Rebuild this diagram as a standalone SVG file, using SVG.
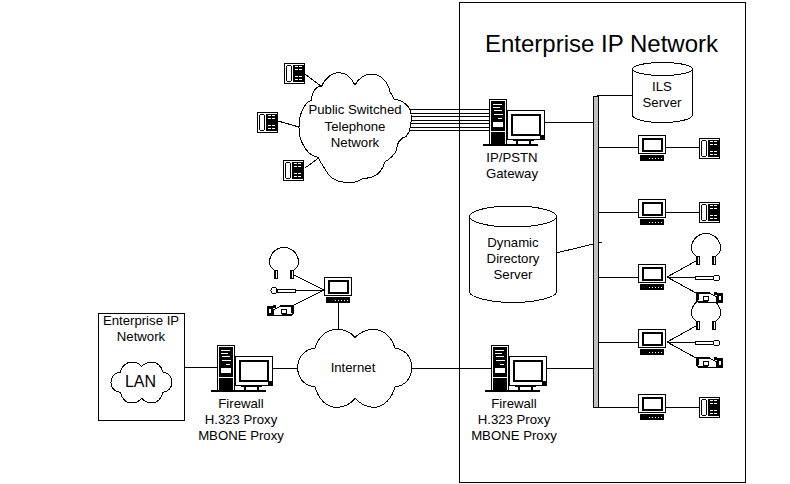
<svg xmlns="http://www.w3.org/2000/svg" xmlns:xlink="http://www.w3.org/1999/xlink" width="790" height="484" viewBox="0 0 790 484">
<style>
text{font-family:"Liberation Sans",Arial,sans-serif;font-size:13.2px;fill:#000;text-anchor:middle}
.s{fill:none;stroke:#000;stroke-width:1;shape-rendering:crispEdges}
.w{fill:#fff;stroke:#000;stroke-width:1;shape-rendering:crispEdges}
.k{fill:#000;shape-rendering:crispEdges}
.f{fill:#fff;shape-rendering:crispEdges}
.n{vector-effect:non-scaling-stroke}
</style>
<defs>
<g id="server">
<rect class="k" x="0" y="45" width="55" height="2"/>
<rect class="w" x="6.500" y="0.500" width="17" height="45"/>
<rect class="k" x="8" y="2" width="14" height="30"/>
<rect class="k" x="8" y="33" width="14" height="12"/>
<rect class="f" x="10" y="5" width="9" height="1"/><rect class="f" x="10" y="8" width="7" height="1"/><rect class="f" x="11" y="11" width="8" height="1"/><rect class="f" x="11" y="15" width="9" height="1"/><rect class="f" x="15" y="19" width="4" height="1"/>
<rect class="f" x="10" y="23" width="10" height="5"/>
<rect class="k" x="30" y="41" width="21" height="1"/><rect class="k" x="33" y="42" width="2" height="3"/><rect class="k" x="46" y="42" width="2" height="3"/>
<rect class="w" x="24.500" y="11.500" width="37" height="29"/>
<rect x="28.500" y="15.500" width="28" height="20" fill="#fff" stroke="#000" stroke-width="2" shape-rendering="crispEdges"/>
<rect class="k" x="57" y="36" width="4" height="4"/>
</g>
<g id="pc">
<rect class="w" x="0.500" y="0.500" width="27" height="18"/>
<rect x="4.500" y="3.500" width="19" height="12" fill="#fff" stroke="#000" stroke-width="2" shape-rendering="crispEdges"/>
<rect class="k" x="2" y="20" width="24" height="6"/>
<rect class="f" x="11" y="23" width="1" height="1"/><rect class="f" x="14" y="23" width="1" height="1"/><rect class="f" x="17" y="23" width="1" height="1"/><rect class="f" x="20" y="23" width="1" height="1"/><rect class="f" x="23" y="23" width="1" height="1"/>
</g>
<g id="phone">
<rect class="w" x="0.500" y="0.500" width="20" height="20"/>
<rect class="s" x="2.500" y="2.500" width="5" height="16" rx="2"/>
<rect class="k" x="9" y="2" width="11" height="17"/>
<rect class="f" x="11" y="3" width="3" height="1"/><rect class="f" x="15" y="3" width="3" height="1"/><rect class="f" x="11" y="6" width="3" height="1"/><rect class="f" x="15" y="6" width="3" height="1"/><rect class="f" x="11" y="13" width="3" height="1"/><rect class="f" x="15" y="13" width="3" height="1"/><rect class="f" x="11" y="16" width="3" height="1"/><rect class="f" x="15" y="16" width="3" height="1"/>
</g>
<g id="headset">
<path class="s" d="M6 24C2 21 0.500 18 0.500 15C0.500 7 7 0.500 15 0.500C23 0.500 29.500 7 29.500 15C29.500 18 28 21 24 24"/>
<rect class="w" x="5.500" y="23.500" width="3" height="8"/><rect class="k" x="5" y="24" width="1.500" height="7"/>
<rect class="w" x="21.500" y="23.500" width="3" height="8"/><rect class="k" x="21" y="24" width="1.500" height="7"/>
</g>
<g id="mic">
<rect class="w" x="0.500" y="0.500" width="18" height="3"/>
<circle class="w" cx="21.500" cy="2" r="3"/>
</g>
<g id="camera">
<path class="w" d="M1.500 1.500H14.500L21.500 4.500V10.500H5.500L1.500 8.500Z"/>
<rect class="k" x="1" y="0" width="14" height="2"/><rect class="k" x="3" y="9" width="10" height="2"/><rect class="k" x="2" y="2" width="2" height="6"/>
<rect class="s" x="8.500" y="4.500" width="5" height="4"/>
<rect class="k" x="19" y="0" width="3" height="3"/>
<rect class="k" x="22" y="1" width="6" height="10"/><rect class="f" x="24" y="4" width="2" height="4"/>
</g>
<path id="cloud" class="n" d="M38 143C38 115 55 88 90 85C100 50 125 28 155 28C180 28 198 38 210 52C225 38 243 28 265 28C295 28 320 50 330 85C360 88 380 110 380 143C380 175 360 198 330 200C320 238 295 262 265 262C243 262 225 250 210 235C198 250 180 262 155 262C125 262 100 238 90 200C55 198 38 170 38 143Z"/>
</defs>

<g id="connectors">
<path class="s" d="M305 74L322 87M278 121L299 127M305 168L320 157"/>
<path class="s" d="M410 109.500H489M410 113.500H489M410 116.500H489M410 120.500H489M410 123.500H489M410 127.500H489M410 130.500H489"/>
<path class="s" d="M544 122.500H593M597 95.500H632M598 147.500H638M666 147.500H699M598 212.500H638M666 212.500H699M598 277.500H638M598 342.500H638M598 407.500H638M666 407.500H699"/>
<path class="s" d="M556 253L602 242"/>
<path class="s" d="M667 277L696 261M667 277.500H695M667 277L696 293M667 342L696 326M667 342.500H695M667 342L696 358"/>
<path class="s" d="M324 290L294 275M324 290.500H295M324 290L294 305M338.500 303V329"/>
<path class="s" d="M184 367.500H217M272 368.500H298M412 368.500H491M546 368.500H593"/>
</g>

<g id="enterprise-network">
<rect class="s" x="459.500" y="2.500" width="286" height="480"/>
<text x="601.500" y="52" style="font-size:24px">Enterprise IP Network</text>
</g>
<g id="bus">
<rect x="593" y="96" width="5" height="311" fill="#c0c0c0" stroke="#000" stroke-width="1" shape-rendering="crispEdges"/>
</g>
<g id="pstn-cloud">
<path class="w n" transform="translate(250 50) scale(.3333)" d="M147 232C147 195 160 160 185 150C185 125 200 108 215 108C225 85 245 68 268 68C290 68 305 85 315 105C325 85 345 72 365 72C395 72 415 100 420 125C425 135 430 140 432 148C460 150 480 170 483 190C485 215 483 240 470 258C450 265 440 280 440 300C430 320 415 330 405 335C395 370 370 385 340 385C320 398 305 400 290 397C265 398 240 385 230 365C220 350 210 335 205 322C185 320 165 300 160 285C150 270 147 250 147 232Z"/>
<text x="355" y="114">Public Switched</text>
<text x="355" y="131">Telephone</text>
<text x="355" y="147">Network</text>
</g>
<g id="phone-1"><use xlink:href="#phone" href="#phone" x="284" y="63"/></g>
<g id="phone-2"><use xlink:href="#phone" href="#phone" x="257" y="112"/></g>
<g id="phone-3"><use xlink:href="#phone" href="#phone" x="283" y="160"/></g>
<g id="gateway">
<use xlink:href="#server" href="#server" x="483" y="99"/>
<text x="512" y="162">IP/PSTN</text>
<text x="512" y="178">Gateway</text>
</g>
<g id="ils-server">
<path class="w" d="M632.500 69V115C632.500 119 645 122.500 662 122.500C679 122.500 692.500 119 692.500 115V69"/>
<ellipse class="w" cx="662.500" cy="69" rx="30" ry="6.500"/>
<text x="662" y="91">ILS</text>
<text x="662" y="107">Server</text>
</g>
<g id="directory-server">
<path class="w" d="M469.500 216V292C469.500 297 490 302.500 513 302.500C536 302.500 556.500 297 556.500 292V216"/>
<ellipse class="w" cx="513" cy="216.500" rx="43.500" ry="10.500"/>
<text x="513" y="247">Dynamic</text>
<text x="513" y="263">Directory</text>
<text x="513" y="279">Server</text>
</g>
<g id="station-1"><use xlink:href="#pc" href="#pc" x="638" y="135"/><use xlink:href="#phone" href="#phone" x="699" y="138"/></g>
<g id="station-2"><use xlink:href="#pc" href="#pc" x="638" y="199"/><use xlink:href="#phone" href="#phone" x="699" y="202"/></g>
<g id="station-3"><use xlink:href="#pc" href="#pc" x="638" y="264"/><use xlink:href="#headset" href="#headset" x="691" y="233"/><use xlink:href="#mic" href="#mic" x="695" y="276"/></g>
<g id="station-4"><use xlink:href="#headset" href="#headset" x="691" y="298"/><use xlink:href="#pc" href="#pc" x="638" y="329"/><use xlink:href="#mic" href="#mic" x="695" y="341"/></g>
<g id="cameras"><use xlink:href="#camera" href="#camera" x="695" y="292"/><use xlink:href="#camera" href="#camera" x="695" y="357"/></g>
<g id="station-5"><use xlink:href="#pc" href="#pc" x="638" y="394"/><use xlink:href="#phone" href="#phone" x="699" y="397"/></g>
<g id="remote-station">
<use xlink:href="#pc" href="#pc" x="324" y="277"/>
<use xlink:href="#headset" href="#headset" x="269" y="247"/>
<use xlink:href="#mic" href="#mic" transform="translate(298 292.500) scale(-1 1)" x="2.500" y="-4"/>
<use xlink:href="#camera" href="#camera" transform="translate(295 305) scale(-1 1)"/>
</g>
<g id="internet">
<use xlink:href="#cloud" href="#cloud" class="w" transform="translate(285 320) scale(.3333)"/>
<text x="353" y="372">Internet</text>
</g>
<g id="firewall-internal">
<use xlink:href="#server" href="#server" x="485" y="345"/>
<text x="514" y="408">Firewall</text>
<text x="514" y="424">H.323 Proxy</text>
<text x="514" y="440">MBONE Proxy</text>
</g>
<g id="firewall-remote">
<use xlink:href="#server" href="#server" x="211" y="345"/>
<text x="241" y="408">Firewall</text>
<text x="241" y="424">H.323 Proxy</text>
<text x="241" y="440">MBONE Proxy</text>
</g>
<g id="remote-enterprise">
<rect class="s" x="98.500" y="313.500" width="86" height="107"/>
<text x="141" y="325">Enterprise IP</text>
<text x="141" y="341">Network</text>
</g>
<g id="lan">
<use xlink:href="#cloud" href="#cloud" class="w" transform="translate(104.200 357.300) scale(.178 .1745)"/>
<text x="140.500" y="387" style="font-size:16px">LAN</text>
</g>
</svg>
